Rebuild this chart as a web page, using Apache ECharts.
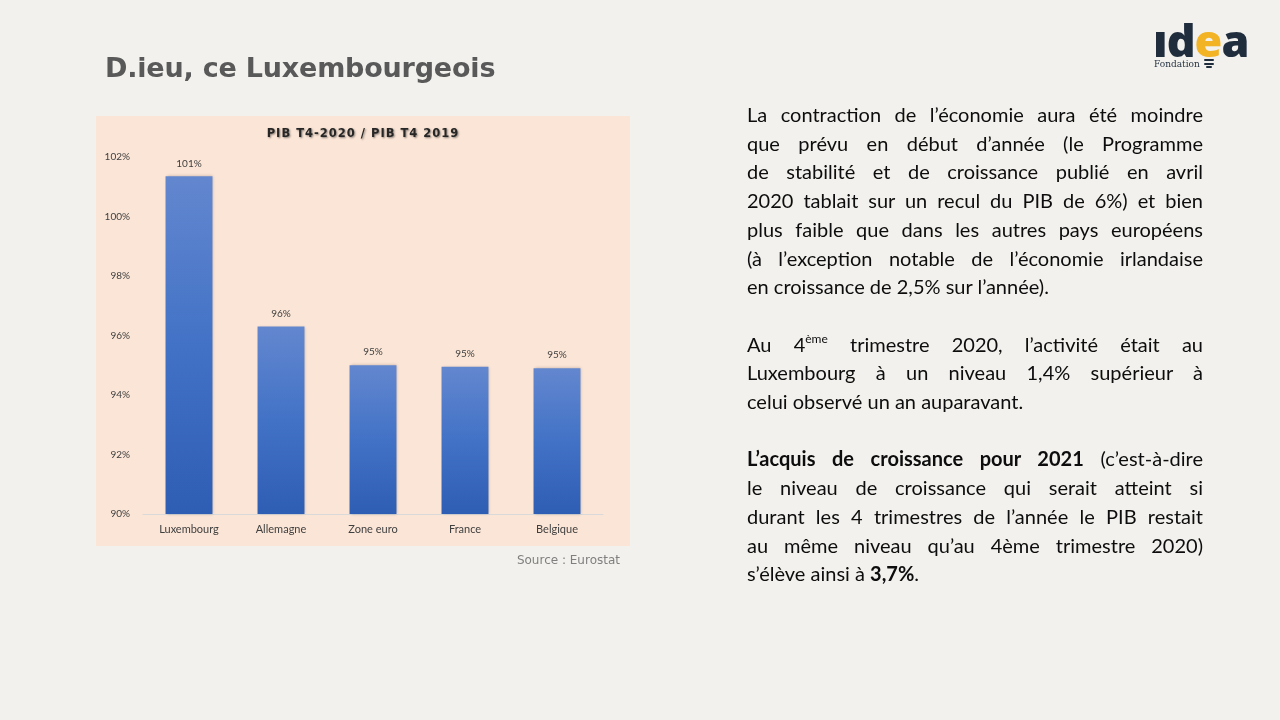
<!DOCTYPE html>
<html><head><meta charset="utf-8">
<script src="https://cdn.jsdelivr.net/npm/echarts@6/dist/echarts.min.js"></script>
<style>
html,body{margin:0;padding:0;background:#F2F1ED;width:1280px;height:720px;overflow:hidden}
#chart{position:absolute;left:0;top:0;width:1280px;height:720px}
#title{position:absolute;left:105px;top:52px;font-family:"DejaVu Sans",sans-serif;font-weight:bold;font-size:27px;color:#595959;letter-spacing:-0.2px;white-space:nowrap}
#ctitle{position:absolute;left:263px;top:126px;width:200px;text-align:center;font-family:"DejaVu Sans",sans-serif;font-weight:bold;font-size:11.5px;letter-spacing:1px;color:#262626;text-shadow:1px 1px 2px rgba(0,0,0,0.45);white-space:nowrap}
#text{position:absolute;left:747px;top:100px;width:456px;font-family:Lato,"Open Sans",sans-serif;font-size:20px;line-height:28.7px;color:#0d0d0d}
#text .l{text-align:justify;text-align-last:justify;white-space:nowrap;overflow:visible}
#text .e{text-align:left;white-space:nowrap}
#text .b{height:28.7px}
sup{font-size:12px;line-height:0;vertical-align:9px}
#logo{position:absolute;left:1153px;top:22px;width:100px;height:55px}
#logo .w{position:absolute;left:0;top:-13px;font-family:"Open Sans",sans-serif;font-weight:800;font-size:45px;color:#1f2d3d;letter-spacing:-1px}
#logo .w span{color:#F2B325}
#logo .f{position:absolute;left:1px;top:37px;font-family:"DejaVu Serif",serif;font-size:9px;color:#1f2d3d}
#logo .bulb{position:absolute;left:51px;top:37px;width:10px}
#logo .bulb div{height:2px;background:#1f2d3d;margin-bottom:1.5px;border-radius:1px}
</style></head>
<body>
<div id="chart"></div>
<div id="title">D.ieu, ce Luxembourgeois</div>
<div id="ctitle"></div>
<div id="logo"><div class="w">ıd<span>e</span>a</div><div class="f">Fondation</div><div class="bulb"><div></div><div></div><div style="width:6px;margin-left:2px"></div></div></div>
<div id="text">
<div class="l">La contraction de l’économie aura été moindre</div>
<div class="l">que prévu en début d’année (le Programme</div>
<div class="l">de stabilité et de croissance publié en avril</div>
<div class="l">2020 tablait sur un recul du PIB de 6%) et bien</div>
<div class="l">plus faible que dans les autres pays européens</div>
<div class="l">(à l’exception notable de l’économie irlandaise</div>
<div class="e">en croissance de 2,5% sur l’année).</div>
<div class="b"></div>
<div class="l">Au 4<sup>ème</sup> trimestre 2020, l’activité était au</div>
<div class="l">Luxembourg à un niveau 1,4% supérieur à</div>
<div class="e">celui observé un an auparavant.</div>
<div class="b"></div>
<div class="l"><b>L’acquis de croissance pour 2021</b> (c’est-à-dire</div>
<div class="l">le niveau de croissance qui serait atteint si</div>
<div class="l">durant les 4 trimestres de l’année le PIB restait</div>
<div class="l">au même niveau qu’au 4ème trimestre 2020)</div>
<div class="e">s’élève ainsi à <b>3,7%</b>.</div>
</div>
<script>
const categories = ["Luxembourg", "Allemagne", "Zone euro", "France", "Belgique"];
const values = [101.35, 96.3, 95.0, 94.95, 94.9];
const chartTitle = "PIB T4-2020 / PIB T4 2019";
const sourceText = "Source : Eurostat";
const yMin = 90, yMax = 102, yStep = 2;

document.getElementById('ctitle').textContent = chartTitle;

const chart = echarts.init(document.getElementById('chart'), null, {renderer:'canvas'});
chart.setOption({
  backgroundColor: 'transparent',
  animation: false,
  graphic: [
    {type:'rect', shape:{x:96,y:116,width:534,height:430}, style:{fill:'#FBE5D6'}, z:-10},
    {type:'text', right: 1280-620, top: 555, style:{text: sourceText, fill:'#7F7F7F', font:'12px "DejaVu Sans", sans-serif'}}
  ],
  grid: {left:143, right:1280-603, top:157, bottom:720-514, containLabel:false},
  xAxis: {
    type:'category', data: categories,
    axisLine:{show:true, lineStyle:{color:'#D9D9D9', width:1}},
    axisTick:{show:false},
    axisLabel:{color:'#404040', fontSize:11, fontFamily:'Lato, "Open Sans", sans-serif', margin:10}
  },
  yAxis: {
    type:'value', min:yMin, max:yMax, interval:yStep,
    axisLine:{show:false}, axisTick:{show:false}, splitLine:{show:false},
    axisLabel:{color:'#404040', fontSize:10, fontFamily:'Lato, "Open Sans", sans-serif', margin:13, formatter:'{value}%'}
  },
  series: [{
    type:'bar', data: values, barWidth:'51%',
    itemStyle:{
      color: new echarts.graphic.LinearGradient(0,0,0,1,[{offset:0,color:'#6387CF'},{offset:0.5,color:'#4272C6'},{offset:1,color:'#2E5DB4'}]),
      shadowColor:'rgba(0,0,0,0.25)', shadowBlur:3, shadowOffsetX:1
    },
    label:{show:true, position:'top', distance:8, color:'#404040', fontSize:10, fontFamily:'Lato, "Open Sans", sans-serif',
      formatter: p => Math.round(p.value) + '%'}
  }]
});
</script>
</body></html>
